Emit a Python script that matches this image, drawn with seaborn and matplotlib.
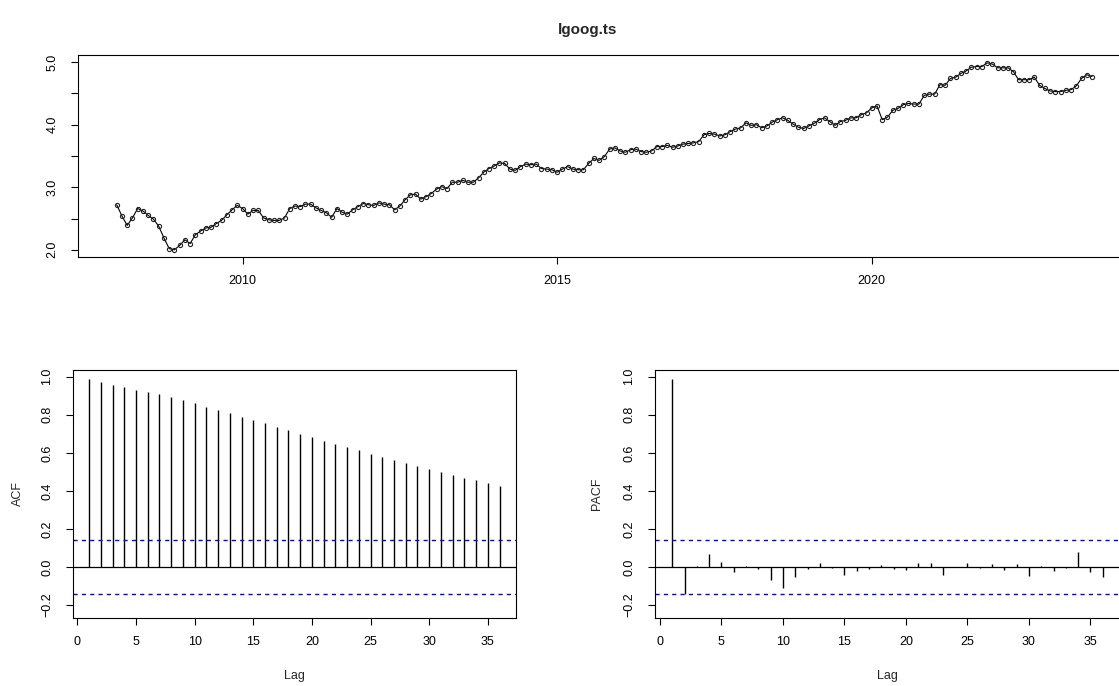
import numpy as np
import matplotlib
matplotlib.use("Agg")
import matplotlib.pyplot as plt
import seaborn as sns

# monthly log price series, Jan 2008 .. Jul 2023
start_year = 2008
lgoog = [
    2.72, 2.54, 2.39, 2.51, 2.66, 2.62, 2.55, 2.49, 2.38, 2.19, 2.02, 2.00,
    2.07, 2.16, 2.10, 2.24, 2.30, 2.35, 2.36, 2.42, 2.47, 2.56, 2.64, 2.71,
    2.66, 2.57, 2.63, 2.63, 2.51, 2.48, 2.47, 2.47, 2.51, 2.66, 2.70, 2.69,
    2.73, 2.73, 2.67, 2.63, 2.59, 2.52, 2.66, 2.60, 2.57, 2.64, 2.69, 2.74,
    2.72, 2.71, 2.75, 2.73, 2.72, 2.64, 2.70, 2.80, 2.88, 2.89, 2.81, 2.85,
    2.90, 2.97, 3.01, 2.98, 3.08, 3.08, 3.11, 3.08, 3.08, 3.15, 3.24, 3.30,
    3.34, 3.39, 3.38, 3.29, 3.27, 3.33, 3.37, 3.36, 3.37, 3.30, 3.29, 3.28,
    3.24, 3.29, 3.33, 3.29, 3.28, 3.28, 3.38, 3.46, 3.43, 3.49, 3.61, 3.63,
    3.58, 3.56, 3.60, 3.61, 3.57, 3.56, 3.58, 3.65, 3.65, 3.67, 3.64, 3.66,
    3.69, 3.70, 3.71, 3.73, 3.84, 3.86, 3.85, 3.82, 3.84, 3.89, 3.93, 3.95,
    4.03, 3.99, 4.00, 3.95, 3.98, 4.04, 4.08, 4.11, 4.07, 4.01, 3.96, 3.94,
    3.98, 4.02, 4.08, 4.11, 4.05, 3.99, 4.05, 4.07, 4.11, 4.11, 4.16, 4.19,
    4.27, 4.30, 4.08, 4.12, 4.23, 4.26, 4.32, 4.34, 4.33, 4.33, 4.47, 4.49,
    4.49, 4.64, 4.63, 4.74, 4.76, 4.82, 4.86, 4.92, 4.93, 4.93, 4.99, 4.97,
    4.91, 4.91, 4.91, 4.85, 4.72, 4.72, 4.72, 4.76, 4.63, 4.58, 4.54, 4.53,
    4.53, 4.55, 4.56, 4.62, 4.74, 4.80, 4.77,
]

lags = list(range(1, 37))
acf_vals = [
    0.986, 0.972, 0.958, 0.944, 0.930, 0.918, 0.907, 0.893, 0.877, 0.862,
    0.842, 0.825, 0.807, 0.788, 0.771, 0.755, 0.736, 0.718, 0.699, 0.681,
    0.662, 0.644, 0.629, 0.613, 0.594, 0.578, 0.562, 0.545, 0.531, 0.515,
    0.499, 0.483, 0.468, 0.455, 0.441, 0.427,
]
pacf_vals = [
    0.988, -0.144, 0.003, 0.070, 0.025, -0.028, 0.003, -0.009, -0.067, -0.110,
    -0.051, -0.012, 0.019, -0.003, -0.042, -0.019, -0.012, 0.009, -0.012, -0.016,
    0.019, 0.021, -0.040, 0.002, 0.019, -0.003, 0.014, -0.016, 0.016, -0.047,
    0.003, -0.019, -0.004, 0.081, -0.026, -0.053,
]
ci_bound = 0.143

sns.set_style("ticks")
plt.rcParams['font.family'] = ['Liberation Sans', 'DejaVu Sans']
plt.rcParams['axes.linewidth'] = 0.8

W, H = 1119, 686
fig = plt.figure(figsize=(W / 100, H / 100), dpi=100)

def rect(x0, x1, y_top, y_bot):
    return [x0 / W, 1 - y_bot / H, (x1 - x0) / W, (y_bot - y_top) / H]

ax_ts = fig.add_axes(rect(77.7, 1131, 55, 257.3))
ax_acf = fig.add_axes(rect(72.7, 516, 370, 617.7))
ax_pacf = fig.add_axes(rect(655, 1120, 370, 617.7))

def r_style(ax):
    for s in ax.spines.values():
        s.set_visible(True)
        s.set_color('black')
        s.set_linewidth(0.8)
    ax.tick_params(direction='out', length=5, width=0.8, colors='black',
                   labelsize=9)
    ax.tick_params(axis='x', pad=8)
    ax.tick_params(axis='y', pad=9)
    ax.grid(False)

# time series panel
years = start_year + np.arange(len(lgoog)) / 12
sns.lineplot(x=years, y=lgoog, ax=ax_ts, color='black', linewidth=0.8,
             marker='o', markersize=3.0, markerfacecolor='none',
             markeredgecolor='#222222', markeredgewidth=0.8,
             estimator=None, sort=False)
ax_ts.set_xlim(2007.38, 2024.12)
ax_ts.set_ylim(1.88, 5.115)
ax_ts.set_xticks([2010, 2015, 2020])
ax_ts.set_xticklabels(['2010', '2015', '2020'])
yt = [2.0, 2.5, 3.0, 3.5, 4.0, 4.5, 5.0]
ax_ts.set_yticks(yt)
ax_ts.set_yticklabels([f"{v:.1f}" if v == int(v) else '' for v in yt])
ax_ts.set_xlabel('')
ax_ts.set_ylabel('')
r_style(ax_ts)

def corr_panel(ax, vals, label):
    ax.vlines(lags, 0, vals, color='black', linewidth=1.0)
    ax.axhline(0, color='black', linewidth=0.9)
    for b in (ci_bound, -ci_bound):
        ax.axhline(b, color='blue', linewidth=1.0, linestyle=(0, (3, 3)))
    ax.set_xlim(-0.4, 37.4)
    ax.set_ylim(-0.266, 1.035)
    ax.set_xticks(range(0, 36, 5))
    ax.set_yticks([-0.2, 0.0, 0.2, 0.4, 0.6, 0.8, 1.0])
    ax.set_yticklabels(['\u22120.2', '0.0', '0.2', '0.4', '0.6', '0.8', '1.0'])
    ax.set_xlabel('Lag', fontsize=9)
    ax.set_ylabel(label, fontsize=9)
    r_style(ax)

corr_panel(ax_acf, acf_vals, 'ACF')
corr_panel(ax_pacf, pacf_vals, 'PACF')
ax_acf.yaxis.set_label_coords((24 - 72.7) / (516 - 72.7), 0.5)
ax_pacf.yaxis.set_label_coords((603 - 655) / (1120 - 655), 0.5)
ax_acf.xaxis.set_label_coords(0.5, (617.7 - 670) / (617.7 - 370))
ax_pacf.xaxis.set_label_coords(0.5, (617.7 - 670) / (617.7 - 370))

for ax in (ax_ts, ax_acf, ax_pacf):
    for lab in ax.get_yticklabels():
        lab.set_rotation(90)
        lab.set_va('center')

fig.text(588 / W, 1 - 30 / H, 'lgoog.ts', ha='center', va='center',
         fontsize=11, fontweight='bold')

fig.savefig('out.png', dpi=100)
